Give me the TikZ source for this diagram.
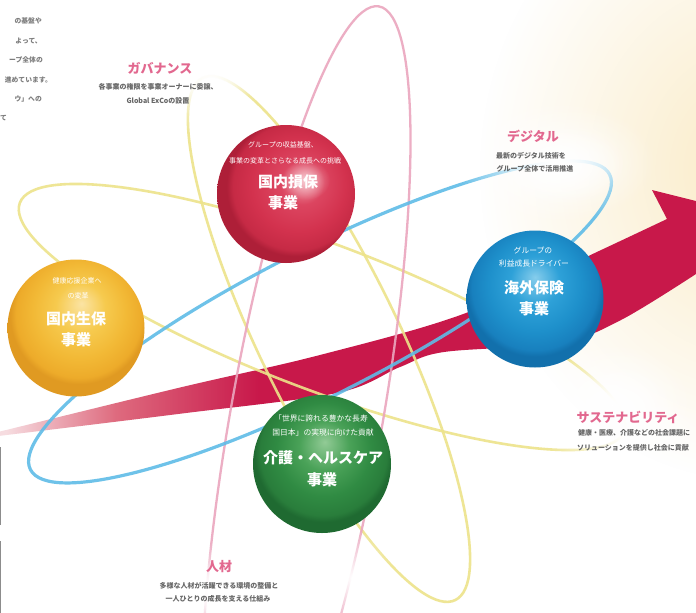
\documentclass[tikz,border=0pt]{standalone}
\usepackage{fontspec}
\newfontfamily\jpfont{Noto Sans CJK JP}
\usetikzlibrary{fadings}

% palette
\definecolor{creamglow}{HTML}{FAEBC6}
\definecolor{arrowpale}{HTML}{F6DCE0}
\definecolor{arrowmid}{HTML}{DE6A7E}
\definecolor{arrowred}{HTML}{C8184A}
\definecolor{orbyellow}{HTML}{EDE38A}
\definecolor{orbpink}{HTML}{EBA6BE}
\definecolor{orbblue}{HTML}{5FBCE7}
\definecolor{lblpink}{HTML}{E2688F}
\definecolor{lblgrey}{HTML}{666666}
\definecolor{edgegrey}{HTML}{8C8C8C}
\definecolor{redA}{HTML}{F2A4B0}
\definecolor{redB}{HTML}{DC4560}
\definecolor{redC}{HTML}{D3324E}
\definecolor{redD}{HTML}{C62A45}
\definecolor{redE}{HTML}{AE1F38}
\definecolor{yelA}{HTML}{FBE4A4}
\definecolor{yelB}{HTML}{F6CA4E}
\definecolor{yelC}{HTML}{F2B936}
\definecolor{yelD}{HTML}{EDAB2A}
\definecolor{yelE}{HTML}{E09A22}
\definecolor{bluA}{HTML}{86CDEC}
\definecolor{bluB}{HTML}{2EA1D8}
\definecolor{bluC}{HTML}{1E90CB}
\definecolor{bluD}{HTML}{1880BE}
\definecolor{bluE}{HTML}{1270AC}
\definecolor{grnA}{HTML}{92CB96}
\definecolor{grnB}{HTML}{4AA258}
\definecolor{grnC}{HTML}{308B43}
\definecolor{grnD}{HTML}{297D3B}
\definecolor{grnE}{HTML}{1F6A31}

% sphere shadings (highlight offset towards the light)
\pgfdeclareradialshading{sphred}{\pgfpoint{7bp}{5bp}}{color(0bp)=(redA); color(8bp)=(redB); color(17bp)=(redC); color(23bp)=(redD); color(25bp)=(redE); color(50bp)=(redE)}
\pgfdeclareradialshading{sphyel}{\pgfpoint{2bp}{9bp}}{color(0bp)=(yelA); color(9bp)=(yelB); color(17bp)=(yelC); color(23bp)=(yelD); color(25bp)=(yelE); color(50bp)=(yelE)}
\pgfdeclareradialshading{sphblu}{\pgfpoint{0bp}{8bp}}{color(0bp)=(bluA); color(9bp)=(bluB); color(17bp)=(bluC); color(23bp)=(bluD); color(25bp)=(bluE); color(50bp)=(bluE)}
\pgfdeclareradialshading{sphgrn}{\pgfpoint{1bp}{8bp}}{color(0bp)=(grnA); color(9bp)=(grnB); color(17bp)=(grnC); color(23bp)=(grnD); color(25bp)=(grnE); color(50bp)=(grnE)}
% growth arrow: pale at its thin tail, full red further on
\pgfdeclarehorizontalshading{arrowfade}{100bp}{color(0bp)=(arrowpale); color(26bp)=(arrowpale); color(33bp)=(arrowmid); color(42bp)=(arrowred); color(100bp)=(arrowred)}
% soft blob: opaque centre, transparent rim
\tikzfading[name=softblob, inner color=transparent!0, outer color=transparent!100]

\tikzset{
  orbit/.style={line width=2.6pt, opacity=0.9},
  sphere/.style={circle, inner sep=0pt, minimum size=#1},
  sphsmall/.style={text=white, inner sep=0pt, font={\jpfont\fontsize{7}{8}\selectfont}},
  sphtitle/.style={text=white, inner sep=0pt, font={\jpfont\bfseries\fontsize{15}{17}\selectfont}},
  lbltitle/.style={text=lblpink, inner sep=0pt, font={\jpfont\bfseries\fontsize{13}{15}\selectfont}},
  lblsub/.style={text=lblgrey, inner sep=0pt, font={\jpfont\bfseries\fontsize{7}{8}\selectfont}},
  partext/.style={text=lblgrey!85, inner sep=0pt, font={\jpfont\bfseries\fontsize{6.8}{7}\selectfont}},
  haze/.style={white, path fading=softblob}
}

\begin{document}
\begin{tikzpicture}[x=1pt,y=-1pt]
\useasboundingbox (0,0) rectangle (696,613);
\begin{scope}
\clip (0,0) rectangle (696,613);
\fill[white] (0,0) rectangle (696,613);
% warm glow in the upper right
\fill[creamglow, path fading=softblob] (750,170) ellipse [x radius=270pt, y radius=310pt];

% growth arrow
\shade[shading=arrowfade]
  plot[smooth, tension=0.55] coordinates {(-10,434) (178,388) (320,355) (466,313) (599,251) (667,219)}
  -- (652,190) -- (780,222) -- (765,280)
  -- plot[smooth, tension=0.55] coordinates {(696,274) (621,320) (560,343) (444,352) (400,367) (337,393) (178,414) (-10,437)}
  -- cycle;

% orbits
\draw[orbit, orbyellow, rotate around={-20.7:(322,317)}] (322,317) ellipse [x radius=323pt, y radius=73pt];
\draw[orbit, orbyellow, rotate around={25.8:(329,339)}] (329,339) ellipse [x radius=70pt, y radius=290pt];
\draw[orbit, orbpink, line width=2.3pt, rotate around={-10:(306,420)}] (306,420) ellipse [x radius=76pt, y radius=420pt];
\draw[orbit, orbblue, line width=3.2pt, rotate around={27:(320,322)}] (320,322) ellipse [x radius=325pt, y radius=72pt];

% soft haze where the orbits fade out behind the theme labels
\fill[haze] (165,62) ellipse [x radius=110pt, y radius=72pt];
\fill[haze] (170,66) ellipse [x radius=80pt, y radius=50pt];
\fill[haze] (212,80) ellipse [x radius=42pt, y radius=32pt];
\fill[haze] (555,162) ellipse [x radius=100pt, y radius=60pt];
\fill[haze] (560,165) ellipse [x radius=65pt, y radius=40pt];
\fill[haze] (612,405) ellipse [x radius=80pt, y radius=62pt];
\fill[haze] (615,410) ellipse [x radius=60pt, y radius=45pt];
\fill[haze] (625,432) ellipse [x radius=90pt, y radius=35pt];
\fill[haze] (219,590) ellipse [x radius=105pt, y radius=48pt];
\fill[haze] (219,590) ellipse [x radius=75pt, y radius=30pt];
\fill[haze] (352,578) ellipse [x radius=40pt, y radius=48pt];

% thin rule at the left edge
\draw[edgegrey, line width=1.4pt] (0.7,447) -- (0.7,525);
\draw[edgegrey, line width=1.4pt] (0.7,541) -- (0.7,613);

% business spheres
\node[sphere=138pt, shading=sphred] (sonpo) at (286,194) {};
\node[sphere=137pt, shading=sphyel] (seiho) at (76,328) {};
\node[sphere=137pt, shading=sphblu] (kaigai) at (535,299) {};
\node[sphere=138pt, shading=sphgrn] (kaigo) at (322,464) {};
% specular patch on the red sphere
\fill[white, opacity=0.45, path fading=softblob] (306,180) ellipse [x radius=24pt, y radius=20pt];

% sphere texts
\node[sphsmall] (sonpo1) at (283,145) {グループの収益基盤、};
\node[sphsmall] (sonpo2) at (285,161) {事業の変革とさらなる成長への挑戦};
\node[sphtitle] (sonpo3) at (288,182) {国内損保};
\node[sphtitle] (sonpo4) at (283,203) {事業};

\node[sphsmall] (seiho1) at (77,281) {健康応援企業へ};
\node[sphsmall] (seiho2) at (78,296) {の変革};
\node[sphtitle] (seiho3) at (76,319) {国内生保};
\node[sphtitle] (seiho4) at (76,340) {事業};

\node[sphsmall, font={\jpfont\fontsize{7.8}{9}\selectfont}] (kaigai1) at (533,250) {グループの};
\node[sphsmall, font={\jpfont\fontsize{7.8}{9}\selectfont}] (kaigai2) at (534,264) {利益成長ドライバー};
\node[sphtitle] (kaigai3) at (534,288) {海外保険};
\node[sphtitle] (kaigai4) at (534,309) {事業};

\node[sphsmall, font={\jpfont\fontsize{7.8}{9}\selectfont}] (kaigo1) at (321,419) {「世界に誇れる豊かな長寿};
\node[sphsmall, font={\jpfont\fontsize{7.8}{9}\selectfont}] (kaigo2) at (323,433) {国日本」の実現に向けた貢献};
\node[sphtitle] (kaigo3) at (323,458) {介護・ヘルスケア};
\node[sphtitle] (kaigo4) at (322,480) {事業};

% theme labels
\node[lbltitle] (gov) at (160,68) {ガバナンス};
\node[lblsub] (gov1) at (158,87) {各事業の権限を事業オーナーに委譲、};
\node[lblsub] (gov2) at (158,101) {Global ExCoの設置};

\node[lbltitle] (dig) at (533,136) {デジタル};
\node[lblsub] (dig1) at (531,156) {最新のデジタル技術を};
\node[lblsub] (dig2) at (535,169) {グループ全体で活用推進};

\node[lbltitle] (sus) at (628,417) {サステナビリティ};
\node[lblsub] (sus1) at (634,433) {健康・医療、介護などの社会課題に};
\node[lblsub] (sus2) at (633,448) {ソリューションを提供し社会に貢献};

\node[lbltitle] (jin) at (219,567) {人材};
\node[lblsub] (jin1) at (219,586) {多様な人材が活躍できる環境の整備と};
\node[lblsub] (jin2) at (218,599) {一人ひとりの成長を支える仕組み};

% paragraph tail at the upper left
\node[partext, anchor=east] (p1) at (42,21) {の基盤や};
\node[partext, anchor=east] (p2) at (42,41) {よって、};
\node[partext, anchor=east] (p3) at (43,60) {ープ全体の};
\node[partext, anchor=east] (p4) at (52,80) {進めています。};
\node[partext, anchor=east] (p5) at (42,99) {ウ」への};
\node[partext, anchor=west] (p6) at (0,118) {て};
\end{scope}
\end{tikzpicture}
\end{document}
